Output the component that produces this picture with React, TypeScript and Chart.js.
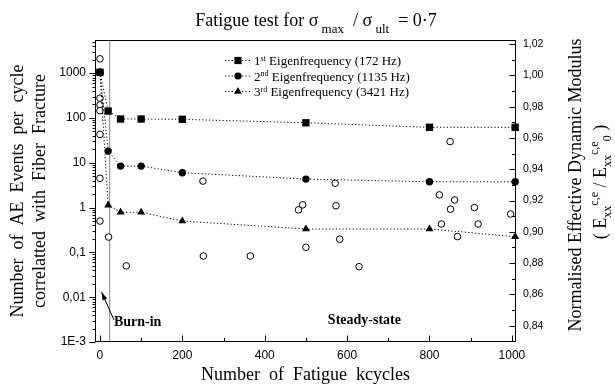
import React, { useEffect, useRef } from "react";
import { Chart, registerables } from "chart.js";

Chart.register(...registerables);

// ---------------- data ----------------
const modKcycles = [0, 20, 50, 100, 200, 500, 800, 1008];
const mod1st = [1.002, 0.9772, 0.9721, 0.9721, 0.9719, 0.9697, 0.9668, 0.9668];
const mod2nd = [1.002, 0.9516, 0.942, 0.942, 0.9378, 0.9337, 0.932, 0.932];
const mod3rd = [1.002, 0.9171, 0.9125, 0.9125, 0.9069, 0.9018, 0.9018, 0.8969];

const aeKcycles = [0, 0, 0, 0, 0, 0, 0, 21, 64, 250, 251, 365, 482, 492, 500, 571, 573, 582, 629, 824, 829, 850, 851, 861, 868, 909, 918, 997];
const aeEvents = [2090, 277, 196, 146, 43, 4.5, 0.5, 0.22, 0.05, 3.9, 0.083, 0.083, 0.89, 1.15, 0.13, 3.5, 1.1, 0.197, 0.048, 1.92, 0.43, 29.7, 0.92, 1.48, 0.225, 1.0, 0.43, 0.72];

const xTicks = [0, 200, 400, 600, 800, 1000];
const xMinorTicks = [100, 300, 500, 700, 900];
const leftTicks = [0.001, 0.01, 0.1, 1, 10, 100, 1000];
const leftTickLabels = ["1E-3", "0,01", "0,1", "1", "10", "100", "1000"];
const rightTicks = [0.84, 0.86, 0.88, 0.9, 0.92, 0.94, 0.96, 0.98, 1.0, 1.02];
const rightTickLabels = ["0,84", "0,86", "0,88", "0,90", "0,92", "0,94", "0,96", "0,98", "1,00", "1,02"];
const rightMinorTicks = [0.83, 0.85, 0.87, 0.89, 0.91, 0.93, 0.95, 0.97, 0.99, 1.01];

const legendOrdinals = ["1", "2", "3"];
const legendSuffixes = ["st", "nd", "rd"];
const legendNames = [" Eigenfrequency (172 Hz)", " Eigenfrequency (1135 Hz)", " Eigenfrequency (3421 Hz)"];

const burnInKcycles = 23.5;
const X_MIN = -12;
const X_MAX = 1010;
const LEFT_MIN = 0.001;
const LEFT_MAX = 5500;
const RIGHT_MIN = 0.8296;
const RIGHT_MAX = 1.0226;

// annotation anchors (data units)
const burnInArrowFrom = { x: 34, y: 0.0031 };
const burnInArrowTo = { x: 4, y: 0.013 };
const burnInLabelAt = { x: 34, y: 0.0027 };
const steadyLabelAt = { x: 642, y: 0.003 };

const SERIF = '"Liberation Serif", "Times New Roman", serif';
const SANS = '"Liberation Sans", Arial, sans-serif';

type Seg = { t: string; size: number; dy?: number; bold?: boolean };

function segWidths(ctx: CanvasRenderingContext2D, segs: Seg[]) {
  return segs.map((s) => {
    ctx.font = `${s.bold ? "bold " : ""}${s.size}px ${SERIF}`;
    return ctx.measureText(s.t).width;
  });
}

function drawSegs(ctx: CanvasRenderingContext2D, segs: Seg[], x: number, y: number, align: "left" | "center") {
  const w = segWidths(ctx, segs);
  const total = w.reduce((a, b) => a + b, 0);
  let cx = align === "center" ? x - total / 2 : x;
  ctx.textAlign = "left";
  ctx.textBaseline = "alphabetic";
  segs.forEach((s, i) => {
    ctx.font = `${s.bold ? "bold " : ""}${s.size}px ${SERIF}`;
    ctx.fillText(s.t, cx, y + (s.dy || 0));
    cx += w[i];
  });
}

function drawMarker(ctx: CanvasRenderingContext2D, kind: number, x: number, y: number) {
  ctx.fillStyle = "#000";
  ctx.beginPath();
  if (kind === 0) {
    ctx.rect(x - 3.6, y - 3.6, 7.2, 7.2);
  } else if (kind === 1) {
    ctx.arc(x, y, 3.6, 0, Math.PI * 2);
  } else {
    const r = 4.6;
    ctx.moveTo(x, y - r);
    ctx.lineTo(x + r * 0.866, y + r * 0.5);
    ctx.lineTo(x - r * 0.866, y + r * 0.5);
    ctx.closePath();
  }
  ctx.fill();
}

const overlay = {
  id: "overlay",
  afterDatasetsDraw(chart: any) {
    const { ctx, chartArea: ca, scales } = chart;
    const xs = scales.x;
    const yl = scales.y;
    const yr = scales.y2;
    ctx.save();
    ctx.strokeStyle = "#000";
    ctx.fillStyle = "#000";
    ctx.lineWidth = 1;

    const L = Math.round(ca.left) + 0.5;
    const R = Math.round(ca.right) - 0.5;
    const T = Math.round(ca.top) + 0.5;
    const B = Math.round(ca.bottom) - 0.5;
    ctx.strokeRect(L, T, R - L, B - T);

    ctx.beginPath();
    // left axis ticks (outward)
    leftTicks.forEach((v) => {
      const y = Math.round(yl.getPixelForValue(v)) + 0.5;
      ctx.moveTo(L - 6, y);
      ctx.lineTo(L, y);
    });
    for (let d = -3; d <= 3; d++) {
      for (let m = 2; m <= 9; m++) {
        const v = m * Math.pow(10, d);
        if (v > LEFT_MAX) continue;
        const y = Math.round(yl.getPixelForValue(v)) + 0.5;
        ctx.moveTo(L - 3, y);
        ctx.lineTo(L, y);
      }
    }
    // x ticks (inward)
    xTicks.forEach((v) => {
      const x = Math.round(xs.getPixelForValue(v)) + 0.5;
      ctx.moveTo(x, B);
      ctx.lineTo(x, B - 6);
    });
    xMinorTicks.forEach((v) => {
      const x = Math.round(xs.getPixelForValue(v)) + 0.5;
      ctx.moveTo(x, B);
      ctx.lineTo(x, B - 3.5);
    });
    // right ticks (inward)
    rightTicks.forEach((v) => {
      const y = Math.round(yr.getPixelForValue(v)) + 0.5;
      ctx.moveTo(R, y);
      ctx.lineTo(R - 6, y);
    });
    rightMinorTicks.forEach((v) => {
      const y = Math.round(yr.getPixelForValue(v)) + 0.5;
      ctx.moveTo(R, y);
      ctx.lineTo(R - 3.5, y);
    });
    ctx.stroke();

    // title
    drawSegs(
      ctx,
      [
        { t: "Fatigue test for σ", size: 18 },
        { t: " max", size: 13, dy: 7 },
        { t: "  / σ", size: 18 },
        { t: " ult", size: 13, dy: 7 },
        { t: "  = 0·7", size: 18 },
      ],
      316,
      26,
      "center"
    );

    // x axis title
    ctx.font = `18px ${SERIF}`;
    ctx.textAlign = "center";
    ctx.textBaseline = "alphabetic";
    ctx.fillText("Number  of  Fatigue  kcycles", (L + R) / 2, 380);

    // left axis title (2 lines)
    const midY = (T + B) / 2;
    ctx.save();
    ctx.translate(18, midY);
    ctx.rotate(-Math.PI / 2);
    ctx.font = `18px ${SERIF}`;
    ctx.textAlign = "center";
    ctx.textBaseline = "middle";
    ctx.fillText("Number  of  AE  Events  per  cycle", 0, 0);
    ctx.fillText("correlatted  with  Fiber  Fracture", 0, 22);
    ctx.restore();

    // right axis title
    ctx.save();
    ctx.translate(576, midY - 6);
    ctx.rotate(-Math.PI / 2);
    ctx.font = `18px ${SERIF}`;
    ctx.textAlign = "center";
    ctx.textBaseline = "middle";
    ctx.fillText("Normalised Effective Dynamic Modulus", 0, 0);
    ctx.restore();

    ctx.save();
    ctx.translate(600, 182);
    ctx.rotate(-Math.PI / 2);
    drawSegs(
      ctx,
      [
        { t: "( E", size: 18 },
        { t: "xx", size: 12, dy: 5 },
        { t: "c,e", size: 12, dy: -8 },
        { t: " / E", size: 18 },
        { t: "xx", size: 12, dy: 5 },
        { t: "c,e", size: 12, dy: -8 },
        { t: "0", size: 12, dy: 5 },
        { t: " )", size: 18 },
      ],
      0,
      6,
      "center"
    );
    ctx.restore();

    // legend
    const lx = 225;
    const ly0 = 60.5;
    for (let i = 0; i < 3; i++) {
      const y = ly0 + i * 15.5;
      ctx.save();
      ctx.strokeStyle = "#000";
      ctx.setLineDash([1.2, 2.2]);
      ctx.beginPath();
      ctx.moveTo(lx, y);
      ctx.lineTo(lx + 27, y);
      ctx.stroke();
      ctx.restore();
      drawMarker(ctx, i, lx + 13, y);
      ctx.fillStyle = "#000";
      drawSegs(
        ctx,
        [
          { t: legendOrdinals[i], size: 13 },
          { t: legendSuffixes[i], size: 8, dy: -4.5 },
          { t: legendNames[i], size: 13 },
        ],
        lx + 29,
        y + 4.5,
        "left"
      );
    }

    // burn-in arrow
    const ax1 = xs.getPixelForValue(burnInArrowFrom.x);
    const ay1 = yl.getPixelForValue(burnInArrowFrom.y);
    const ax2 = xs.getPixelForValue(burnInArrowTo.x);
    const ay2 = yl.getPixelForValue(burnInArrowTo.y);
    ctx.strokeStyle = "#000";
    ctx.lineWidth = 1;
    ctx.beginPath();
    ctx.moveTo(ax1, ay1);
    ctx.lineTo(ax2, ay2);
    ctx.stroke();
    const ang = Math.atan2(ay2 - ay1, ax2 - ax1);
    ctx.beginPath();
    ctx.moveTo(ax2, ay2);
    ctx.lineTo(ax2 - 8 * Math.cos(ang) + 2.5 * Math.sin(ang), ay2 - 8 * Math.sin(ang) - 2.5 * Math.cos(ang));
    ctx.lineTo(ax2 - 8 * Math.cos(ang) - 2.5 * Math.sin(ang), ay2 - 8 * Math.sin(ang) + 2.5 * Math.cos(ang));
    ctx.closePath();
    ctx.fill();

    ctx.font = `bold 14px ${SERIF}`;
    ctx.textBaseline = "middle";
    ctx.textAlign = "left";
    ctx.fillText("Burn-in", xs.getPixelForValue(burnInLabelAt.x), yl.getPixelForValue(burnInLabelAt.y));
    ctx.textAlign = "center";
    ctx.fillText("Steady-state", xs.getPixelForValue(steadyLabelAt.x), yl.getPixelForValue(steadyLabelAt.y));

    ctx.restore();
  },
};

function pts(xv: number[], yv: number[]) {
  return xv.map((x, i) => ({ x, y: yv[i] }));
}

export default function App() {
  const ref = useRef<HTMLCanvasElement>(null);
  useEffect(() => {
    const canvas = ref.current!;
    const dotted = [1.2, 2.2];
    const chart = new Chart(canvas, {
      type: "line",
      data: {
        datasets: [
          {
            data: pts(modKcycles, mod1st),
            yAxisID: "y2",
            borderColor: "#000",
            borderWidth: 1,
            borderDash: dotted,
            pointStyle: "rect",
            pointRadius: 5.2,
            pointBackgroundColor: "#000",
            pointBorderWidth: 0,
            clip: false,
          } as any,
          {
            data: pts(modKcycles, mod2nd),
            yAxisID: "y2",
            borderColor: "#000",
            borderWidth: 1,
            borderDash: dotted,
            pointStyle: "circle",
            pointRadius: 3.7,
            pointBackgroundColor: "#000",
            pointBorderWidth: 0,
            clip: false,
          } as any,
          {
            data: pts(modKcycles, mod3rd),
            yAxisID: "y2",
            borderColor: "#000",
            borderWidth: 1,
            borderDash: dotted,
            pointStyle: "triangle",
            pointRadius: 4.6,
            pointBackgroundColor: "#000",
            pointBorderWidth: 0,
            clip: false,
          } as any,
          {
            data: pts(aeKcycles, aeEvents),
            yAxisID: "y",
            showLine: false,
            pointStyle: "circle",
            pointRadius: 3.3,
            pointBackgroundColor: "#fff",
            pointBorderColor: "#000",
            pointBorderWidth: 1,
            clip: false,
          } as any,
          {
            data: [
              { x: burnInKcycles, y: LEFT_MIN },
              { x: burnInKcycles, y: LEFT_MAX },
            ],
            yAxisID: "y",
            borderColor: "#999",
            borderWidth: 1.2,
            pointRadius: 0,
          } as any,
        ],
      },
      options: {
        responsive: false,
        animation: false,
        events: [],
        layout: { padding: { top: 40, left: 0, right: 0, bottom: 0 } },
        plugins: {
          legend: { display: false },
          tooltip: { enabled: false },
          title: { display: false },
        },
        scales: {
          x: {
            type: "linear",
            min: X_MIN,
            max: X_MAX,
            afterBuildTicks: (s: any) => {
              s.ticks = xTicks.map((v) => ({ value: v }));
            },
            afterFit: (s: any) => {
              s.height = 44;
            },
            grid: { display: false, drawTicks: false },
            border: { display: false },
            ticks: {
              autoSkip: false,
              maxRotation: 0,
              padding: 6,
              color: "#000",
              font: { family: SANS, size: 12 },
              callback: (v: any) => String(v),
            },
          },
          y: {
            type: "logarithmic",
            position: "left",
            min: LEFT_MIN,
            max: LEFT_MAX,
            afterBuildTicks: (s: any) => {
              s.ticks = leftTicks.map((v) => ({ value: v }));
            },
            afterFit: (s: any) => {
              s.width = 95;
            },
            grid: { display: false, drawTicks: false },
            border: { display: false },
            ticks: {
              autoSkip: false,
              padding: 9,
              color: "#000",
              font: { family: SANS, size: 12 },
              callback: (v: any) => {
                const i = leftTicks.findIndex((t) => Math.abs(Math.log10(t) - Math.log10(v)) < 1e-6);
                return i >= 0 ? leftTickLabels[i] : "";
              },
            },
          },
          y2: {
            type: "linear",
            position: "right",
            min: RIGHT_MIN,
            max: RIGHT_MAX,
            afterBuildTicks: (s: any) => {
              s.ticks = rightTicks.map((v) => ({ value: v }));
            },
            afterFit: (s: any) => {
              s.width = 99;
            },
            grid: { display: false, drawTicks: false },
            border: { display: false },
            ticks: {
              autoSkip: false,
              padding: 7,
              color: "#000",
              font: { family: SANS, size: 10.5 },
              callback: (v: any) => {
                const i = rightTicks.findIndex((t) => Math.abs(t - v) < 1e-6);
                return i >= 0 ? rightTickLabels[i] : "";
              },
            },
          },
        },
      } as any,
      plugins: [overlay as any],
    });
    return () => chart.destroy();
  }, []);
  return (
    <div style={{ position: "absolute", left: 0, top: 0, width: 615, height: 386, background: "#fff" }}>
      <canvas ref={ref} width={615} height={386} style={{ display: "block" }} />
    </div>
  );
}
